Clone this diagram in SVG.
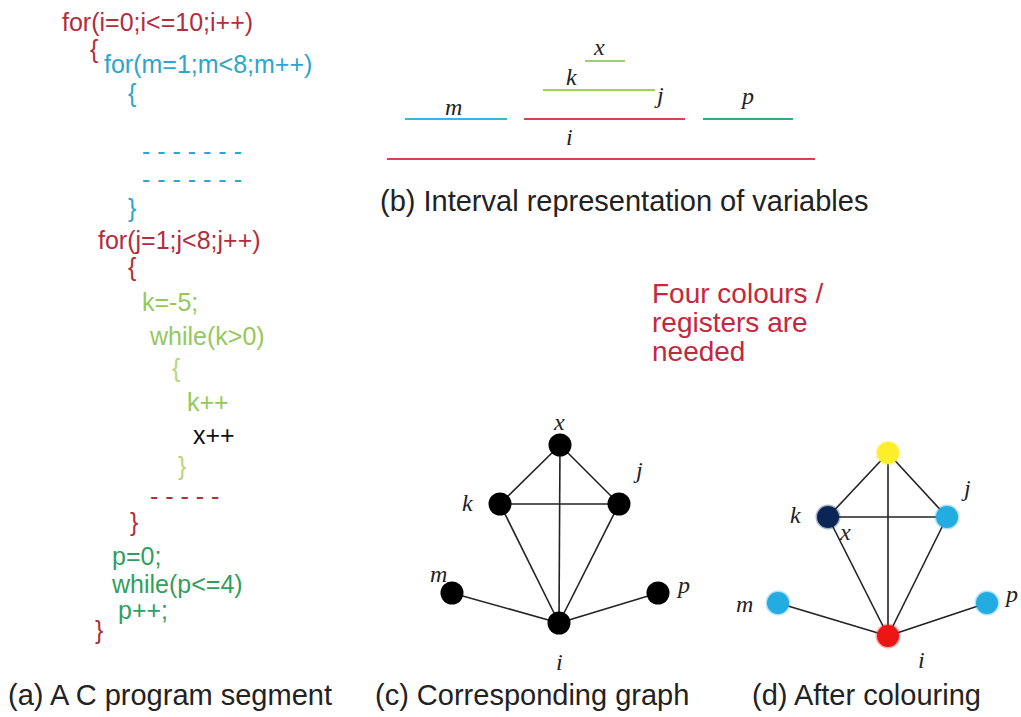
<svg xmlns="http://www.w3.org/2000/svg" width="1021" height="717" viewBox="0 0 1021 717">
<style>
.code{font-family:"Liberation Sans",Arial,sans-serif;font-size:25px}
.red{fill:#b22d3d}
.cyan{fill:#2ba6cf}
.lg{fill:#93c95a}
.pg{fill:#b8d67e}
.g{fill:#2f9f5c}
.blk{fill:#111}
.cap{font-family:"Liberation Sans",Arial,sans-serif;font-size:29px;fill:#222}
.lbl{font-family:"Liberation Serif","Times New Roman",serif;font-style:italic;font-size:24px;fill:#222}
.note{font-family:"Liberation Sans",Arial,sans-serif;font-size:28px;fill:#c4283c}
.edge{stroke:#222;stroke-width:1.6;fill:none}
.iv{stroke-width:2;fill:none}
.glow{stroke-width:3;stroke-opacity:0.35}
</style>
<rect width="1021" height="717" fill="#fff"/>
<g id="code">
<text class="code red" x="62" y="31">for(i=0;i&lt;=10;i++)</text>
<text class="code red" x="90" y="58">{</text>
<text class="code cyan" x="104" y="73">for(m=1;m&lt;8;m++)</text>
<text class="code cyan" x="128" y="102">{</text>
<text class="code cyan" x="142" y="160">- - - - - - -</text>
<text class="code cyan" x="142" y="188">- - - - - - -</text>
<text class="code cyan" x="128" y="217">}</text>
<text class="code red" x="98" y="249">for(j=1;j&lt;8;j++)</text>
<text class="code red" x="128" y="276">{</text>
<text class="code lg" x="142" y="311">k=-5;</text>
<text class="code lg" x="150" y="345">while(k&gt;0)</text>
<text class="code pg" x="172" y="377">{</text>
<text class="code lg" x="187" y="411">k++</text>
<text class="code blk" x="193" y="444">x++</text>
<text class="code pg" x="178" y="475">}</text>
<text class="code red" x="150" y="505">- - - - -</text>
<text class="code red" x="130" y="531">}</text>
<text class="code g" x="112" y="565">p=0;</text>
<text class="code g" x="112" y="593">while(p&lt;=4)</text>
<text class="code g" x="118" y="619">p++;</text>
<text class="code red" x="95" y="639">}</text>
</g>
<g id="captions">
<text class="cap" x="8" y="705">(a) A C program segment</text>
<text class="cap" x="380" y="211">(b) Interval representation of variables</text>
<text class="cap" x="375" y="705">(c) Corresponding graph</text>
<text class="cap" x="752" y="705">(d) After colouring</text>
</g>
<g id="note">
<text class="note" x="652" y="303">Four colours /</text>
<text class="note" x="652" y="332">registers are</text>
<text class="note" x="652" y="361">needed</text>
</g>
<g id="intervals">
<line class="iv" x1="405" y1="119" x2="507" y2="119" stroke="#3db3d8"/>
<line class="iv" x1="524" y1="119" x2="685" y2="119" stroke="#d9414e"/>
<line class="iv" x1="543" y1="90" x2="655" y2="90" stroke="#9fce6a"/>
<line class="iv" x1="585" y1="61" x2="625" y2="61" stroke="#9fce6a"/>
<line class="iv" x1="703" y1="119" x2="793" y2="119" stroke="#3aa77c"/>
<line class="iv" x1="387" y1="159" x2="815" y2="159" stroke="#d9414e"/>
<text class="lbl" x="445" y="115">m</text>
<text class="lbl" x="566" y="145">i</text>
<text class="lbl" x="566" y="85">k</text>
<text class="lbl" x="594" y="55">x</text>
<text class="lbl" x="657" y="103">j</text>
<text class="lbl" x="742" y="104">p</text>
</g>
<g id="connectors">
<line class="edge" x1="560" y1="445" x2="500" y2="504"/>
<line class="edge" x1="560" y1="445" x2="559" y2="623"/>
<line class="edge" x1="560" y1="445" x2="619" y2="504"/>
<line class="edge" x1="500" y1="504" x2="619" y2="504"/>
<line class="edge" x1="500" y1="504" x2="559" y2="623"/>
<line class="edge" x1="619" y1="504" x2="559" y2="623"/>
<line class="edge" x1="452" y1="593" x2="559" y2="623"/>
<line class="edge" x1="658" y1="593" x2="559" y2="623"/>
<line class="edge" x1="888" y1="453" x2="828" y2="517"/>
<line class="edge" x1="888" y1="453" x2="888" y2="636"/>
<line class="edge" x1="888" y1="453" x2="947" y2="517"/>
<line class="edge" x1="828" y1="517" x2="947" y2="517"/>
<line class="edge" x1="828" y1="517" x2="888" y2="636"/>
<line class="edge" x1="947" y1="517" x2="888" y2="636"/>
<line class="edge" x1="778" y1="603" x2="888" y2="636"/>
<line class="edge" x1="987" y1="603" x2="888" y2="636"/>
</g>
<g id="c-x"><circle cx="560" cy="445" r="11.5" fill="#000"/><text class="lbl" x="554" y="430">x</text></g>
<g id="c-k"><circle cx="500" cy="504" r="11.5" fill="#000"/><text class="lbl" x="462" y="511">k</text></g>
<g id="c-j"><circle cx="619" cy="504" r="11.5" fill="#000"/><text class="lbl" x="636" y="478">j</text></g>
<g id="c-m"><circle cx="452" cy="593" r="11.5" fill="#000"/><text class="lbl" x="430" y="582">m</text></g>
<g id="c-p"><circle cx="658" cy="593" r="11.5" fill="#000"/><text class="lbl" x="678" y="593">p</text></g>
<g id="c-i"><circle cx="559" cy="623" r="11.5" fill="#000"/><text class="lbl" x="556" y="670">i</text></g>
<g id="d-x"><circle class="glow" cx="888" cy="453" r="11" fill="#fbef2c" stroke="#fbef2c"/><text class="lbl" x="840" y="540">x</text></g>
<g id="d-k"><circle class="glow" cx="828" cy="517" r="11" fill="#0b2556" stroke="#0b2556"/><text class="lbl" x="790" y="523">k</text></g>
<g id="d-j"><circle class="glow" cx="947" cy="517" r="11" fill="#22ace2" stroke="#22ace2"/><text class="lbl" x="964" y="496">j</text></g>
<g id="d-m"><circle class="glow" cx="778" cy="603" r="11" fill="#22ace2" stroke="#22ace2"/><text class="lbl" x="736" y="612">m</text></g>
<g id="d-p"><circle class="glow" cx="987" cy="603" r="11" fill="#22ace2" stroke="#22ace2"/><text class="lbl" x="1006" y="602">p</text></g>
<g id="d-i"><circle class="glow" cx="888" cy="636" r="11" fill="#ee1515" stroke="#ee1515"/><text class="lbl" x="918" y="668">i</text></g>
</svg>
